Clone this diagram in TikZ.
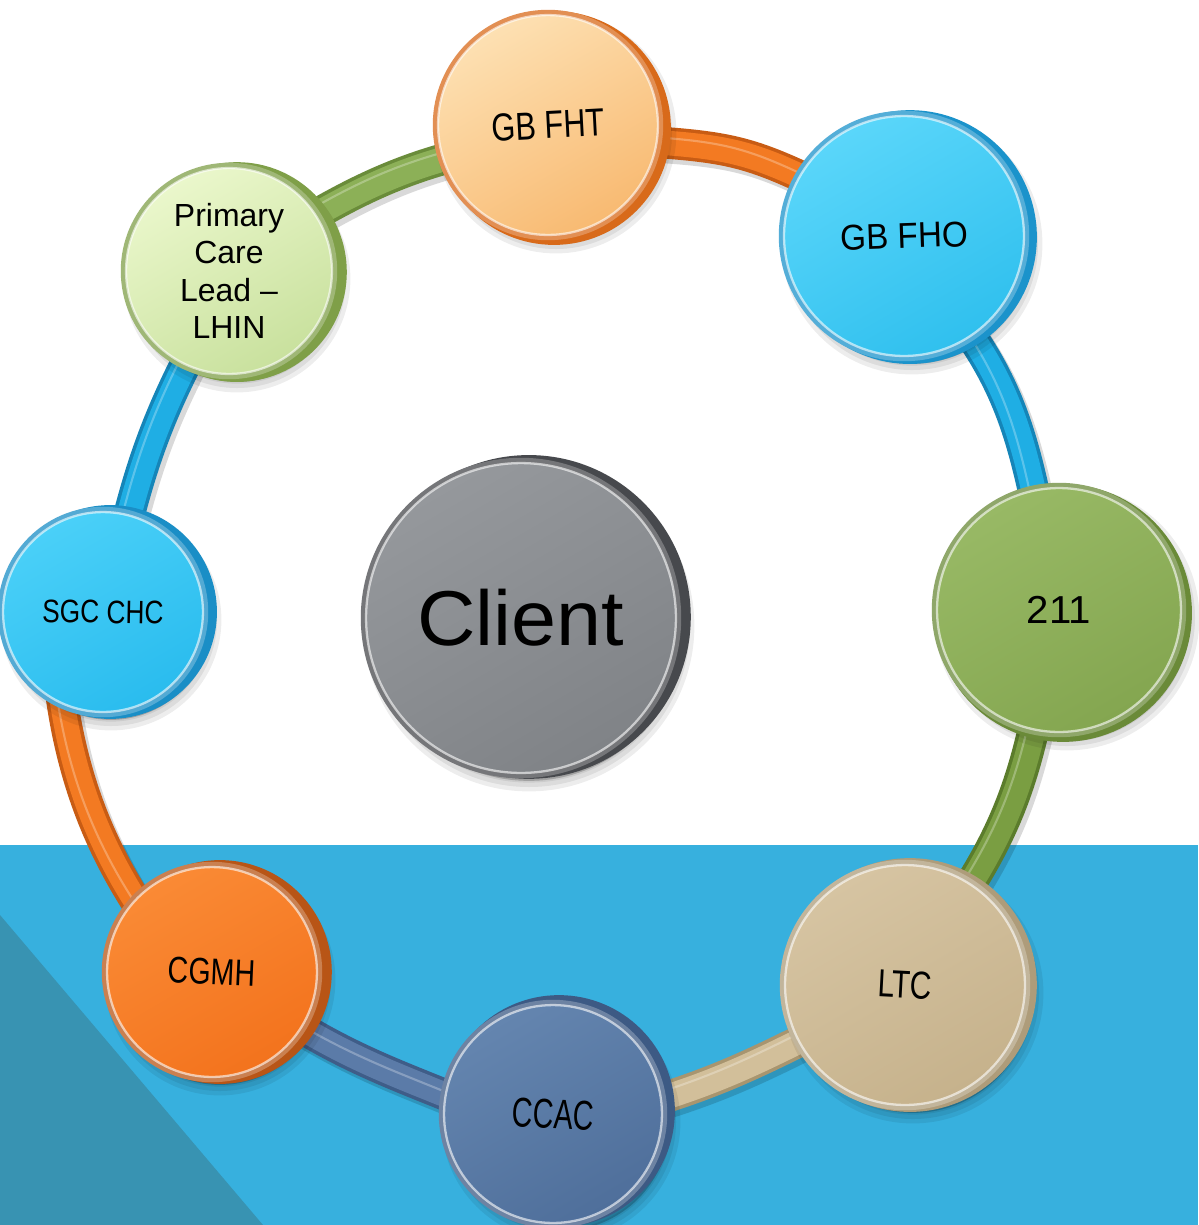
\documentclass[tikz,border=0pt]{standalone}
\usepackage{fontspec}
\setmainfont{Liberation Sans}
\usepackage{graphicx}
\pgfdeclarelayer{bg}
\pgfsetlayers{bg,main}
% background
\definecolor{bgblue}{HTML}{37B0DE}
\definecolor{bgteal}{HTML}{3893B2}
% band colours
\definecolor{bgreen}{HTML}{8CB057}\definecolor{bgreenE}{HTML}{6A8C3A}
\definecolor{borange}{HTML}{F37A22}\definecolor{borangeE}{HTML}{C85C14}
\definecolor{bblue}{HTML}{1FAEE4}\definecolor{bblueE}{HTML}{1585B8}
\definecolor{bgreenB}{HTML}{7A9E42}\definecolor{bgreenBE}{HTML}{5B7C2C}
\definecolor{btan}{HTML}{D2BF9A}\definecolor{btanE}{HTML}{A8956F}
\definecolor{bslate}{HTML}{5B7BA8}\definecolor{bslateE}{HTML}{3F5D88}
% node colours
\definecolor{pclA}{HTML}{EAF7CB}\definecolor{pclB}{HTML}{C9E19E}\definecolor{pclR}{HTML}{7F9F48}
\definecolor{fhtA}{HTML}{FDE0B2}\definecolor{fhtB}{HTML}{F8BA72}\definecolor{fhtR}{HTML}{D86A1A}
\definecolor{fhoA}{HTML}{5AD6FA}\definecolor{fhoB}{HTML}{30C0EE}\definecolor{fhoR}{HTML}{1B93CB}
\definecolor{eleA}{HTML}{98B965}\definecolor{eleB}{HTML}{84A650}\definecolor{eleR}{HTML}{6A8A38}
\definecolor{ltcA}{HTML}{D6C4A2}\definecolor{ltcB}{HTML}{C6B28C}\definecolor{ltcR}{HTML}{AE9C7A}
\definecolor{ccacA}{HTML}{6485AF}\definecolor{ccacB}{HTML}{4F6F9B}\definecolor{ccacR}{HTML}{3D5A84}
\definecolor{cgmhA}{HTML}{FA8A35}\definecolor{cgmhB}{HTML}{F3731D}\definecolor{cgmhR}{HTML}{B85516}
\definecolor{sgcA}{HTML}{4AD0F8}\definecolor{sgcB}{HTML}{2ABCEE}\definecolor{sgcR}{HTML}{1A8EC6}
\definecolor{cliA}{HTML}{95989C}\definecolor{cliB}{HTML}{808387}\definecolor{cliR}{HTML}{47494D}
\newcommand\mylbl[3]{\rotatebox{#1}{\scalebox{#2}[1]{#3}}}
\begin{document}
\begin{tikzpicture}[x=0.02cm, y=-0.02cm,
  softshadow/.style={fill=black, draw=black, fill opacity=0.07, draw opacity=0.07, transform canvas={xshift=4.5pt, yshift=-4.5pt}},
  bubble/.style n args={6}{circle, inner sep=0pt, outer sep=0pt, minimum size=#1*0.04cm,
    preaction={softshadow, line width=12pt},
    preaction={softshadow, line width=7pt},
    preaction={softshadow, line width=2pt},
    preaction={draw=#4, fill=#4, line width=7.9pt, transform canvas={xshift=#5, yshift=#6}},
    preaction={draw=#4!75!white, line width=6pt},
    top color=#2, bottom color=#3, shading angle=30,
    postaction={draw=white, draw opacity=0.6, line width=1.3pt},
    text=black, align=center},
  band/.style 2 args={
    preaction={draw=black, draw opacity=0.15, line width=18pt, shorten <=-6pt, shorten >=-6pt, transform canvas={xshift=2.2pt, yshift=-2.8pt}},
    preaction={draw=#2, line width=18pt, shorten <=-6pt, shorten >=-6pt},
    draw=#1, line width=14pt, shorten <=-6pt, shorten >=-6pt,
    postaction={draw=#1!55!white, draw opacity=0.6, line width=1.2pt, shorten <=-6pt, shorten >=-6pt, transform canvas={xshift=-3pt, yshift=3pt}}},
  ]
\useasboundingbox (0,0) rectangle (1198,1225);
\begin{pgfonlayer}{bg}
  \fill[white] (0,0) rectangle (1198,1225);
  \fill[bgblue] (0,845) rectangle (1198,1225);
  \fill[bgteal] (0,915) -- (263,1225) -- (0,1225) -- cycle;
\end{pgfonlayer}

\node[bubble={103}{pclA}{pclB}{pclR}{4.5pt}{-0.6pt}, font=\fontsize{18.2pt}{21.3pt}\selectfont] (pcl) at (229,271) {Primary\\Care\\Lead –\\LHIN};
\node[bubble={110}{fhtA}{fhtB}{fhtR}{3.4pt}{-1.7pt}, font=\fontsize{22.2pt}{26pt}\selectfont] (fht) at (548,125) {\mylbl{3}{0.79}{GB FHT}};
\node[bubble={120}{fhoA}{fhoB}{fhoR}{3.4pt}{-0.6pt}, font=\fontsize{20.4pt}{24pt}\selectfont] (fho) at (904,236) {\mylbl{2}{0.93}{GB FHO}};
\node[bubble={122}{eleA}{eleB}{eleR}{2.3pt}{-1.7pt}, font=\fontsize{22.2pt}{26pt}\selectfont] (n211) at (1059,610) {\mylbl{0}{1.03}{211}};
\node[bubble={120}{ltcA}{ltcB}{ltcR}{2.8pt}{0pt}, font=\fontsize{22.2pt}{26pt}\selectfont] (ltc) at (905,985) {\mylbl{-3}{0.77}{LTC}};
\node[bubble={109}{ccacA}{ccacB}{ccacR}{3.4pt}{1.7pt}, font=\fontsize{23.7pt}{28pt}\selectfont] (ccac) at (553,1114) {\mylbl{-3}{0.69}{CCAC}};
\node[bubble={105}{cgmhA}{cgmhB}{cgmhR}{4.5pt}{0pt}, font=\fontsize{21.1pt}{25pt}\selectfont] (cgmh) at (212,972) {\mylbl{-2.5}{0.77}{CGMH}};
\node[bubble={100}{sgcA}{sgcB}{sgcR}{4pt}{0pt}, font=\fontsize{18.5pt}{22pt}\selectfont] (sgc) at (103,612) {\mylbl{-1}{0.81}{SGC CHC}};
\node[bubble={155}{cliA}{cliB}{cliR}{4.5pt}{0.6pt}, font=\fontsize{44.3pt}{50pt}\selectfont] (client) at (521,618) {\mylbl{0}{1.04}{Client}};

\begin{pgfonlayer}{bg}
  \draw[band={bgreen}{bgreenE}] (pcl.33) .. controls (362.1,187.6) and (401.8,170.3) .. (fht.198);
  \draw[band={borange}{borangeE}] (fht.-9) .. controls (724.8,146.5) and (749.1,152) .. (fho.150);
  \draw[band={bblue}{bblueE}] (fho.-56) .. controls (1007.6,385.8) and (1022.3,438) .. (n211.102);
  \draw[band={bgreenB}{bgreenBE}] (n211.-102) .. controls (1021,787) and (1002.5,834.5) .. (ltc.57);
  \draw[band={btan}{btanE}] (ltc.208) .. controls (756,1062.7) and (716.3,1082.1) .. (ccac.8);
  \draw[band={bslate}{bslateE}] (ccac.170) .. controls (399.4,1076.2) and (351.8,1059.2) .. (cgmh.-32);
  \draw[band={borange}{borangeE}] (cgmh.137) .. controls (97.7,843) and (72.4,776.3) .. (sgc.246);
  \draw[band={bblue}{bblueE}] (sgc.75) .. controls (143,458.7) and (160.7,412.7) .. (pcl.245);
\end{pgfonlayer}
\end{tikzpicture}
\end{document}
